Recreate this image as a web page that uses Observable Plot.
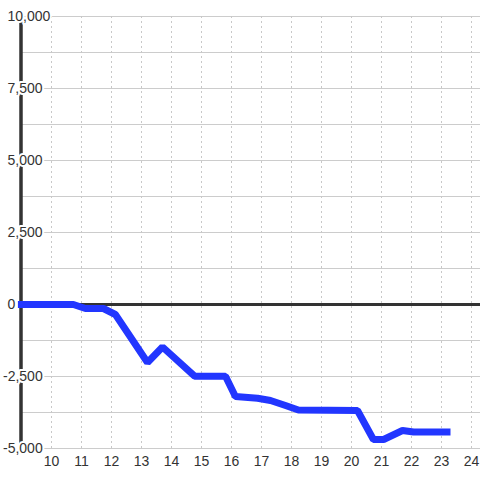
<!DOCTYPE html>
<html>
<head>
<meta charset="utf-8">
<script src="https://cdn.jsdelivr.net/npm/d3@7"></script>
<script src="https://cdn.jsdelivr.net/npm/@observablehq/plot@0.6"></script>
<style>
  html, body { margin: 0; padding: 0; background: #fff; }
</style>
</head>
<body>
<div id="chart"></div>
<script>
const xValues = [8.88, 10.73, 11.13, 11.73, 12.13, 13.2, 13.7, 14.77, 15.8, 16.13, 16.87, 17.3, 17.8, 18.23, 20.2, 20.73, 21.07, 21.7, 22.07, 23.3];
const yValues = [0, 0, -139, -139, -347, -2014, -1476, -2490, -2490, -3194, -3253, -3333, -3507, -3663, -3680, -4687, -4687, -4375, -4427, -4427];
const xTicks = [10, 11, 12, 13, 14, 15, 16, 17, 18, 19, 20, 21, 22, 23, 24];
const xTickLabels = ["10", "11", "12", "13", "14", "15", "16", "17", "18", "19", "20", "21", "22", "23", "24"];
const yGrid = [-5000, -3750, -2500, -1250, 0, 1250, 2500, 3750, 5000, 6250, 7500, 8750, 10000];
const yTicks = [-5000, -2500, 0, 2500, 5000, 7500, 10000];
const yTickLabels = ["-5,000", "-2,500", "0", "2,500", "5,000", "7,500", "10,000"];

const series = xValues.map((x, i) => ({x, y: yValues[i]}));
const yLab = yTicks.map((v, i) => ({v, t: yTickLabels[i]}));
const xLab = xTicks.map((v, i) => ({v, t: xTickLabels[i]}));

const chart = Plot.plot({
  width: 480,
  height: 480,
  marginLeft: 21,
  marginRight: 0,
  marginTop: 16,
  marginBottom: 32,
  style: {fontFamily: "'Liberation Sans', Arial, sans-serif", background: "#fff"},
  x: {domain: [9, 24.3], axis: null},
  y: {domain: [-5000, 10000], axis: null},
  marks: [
    Plot.ruleY(yGrid, {stroke: "#cccccc", strokeWidth: 1}),
    Plot.ruleX(xTicks, {stroke: "#c8c8c8", strokeWidth: 1, strokeDasharray: "2,3"}),
    Plot.ruleY([0], {stroke: "#333", strokeWidth: 3}),
    Plot.ruleX([9], {stroke: "#333", strokeWidth: 3.5, dx: -0.5}),
    Plot.text(yLab.filter(d => d.v >= 0), {x: () => 9, y: "v", text: "t", textAnchor: "start", dx: -14, fontSize: 14, fill: "#333", stroke: "white", strokeWidth: 4, paintOrder: "stroke"}),
    Plot.text(yLab.filter(d => d.v < 0), {x: () => 9, y: "v", text: "t", textAnchor: "start", dx: -18.5, fontSize: 14, fill: "#333", stroke: "white", strokeWidth: 4, paintOrder: "stroke"}),
    Plot.line(series, {x: "x", y: "y", stroke: "#2236ff", strokeWidth: 7, strokeLinejoin: "miter", strokeLinecap: "butt"}),
    Plot.text(xLab, {x: "v", y: () => -5000, text: "t", dy: 13, fontSize: 14, fill: "#333"})
  ]
});
document.getElementById("chart").appendChild(chart);
</script>
</body>
</html>
